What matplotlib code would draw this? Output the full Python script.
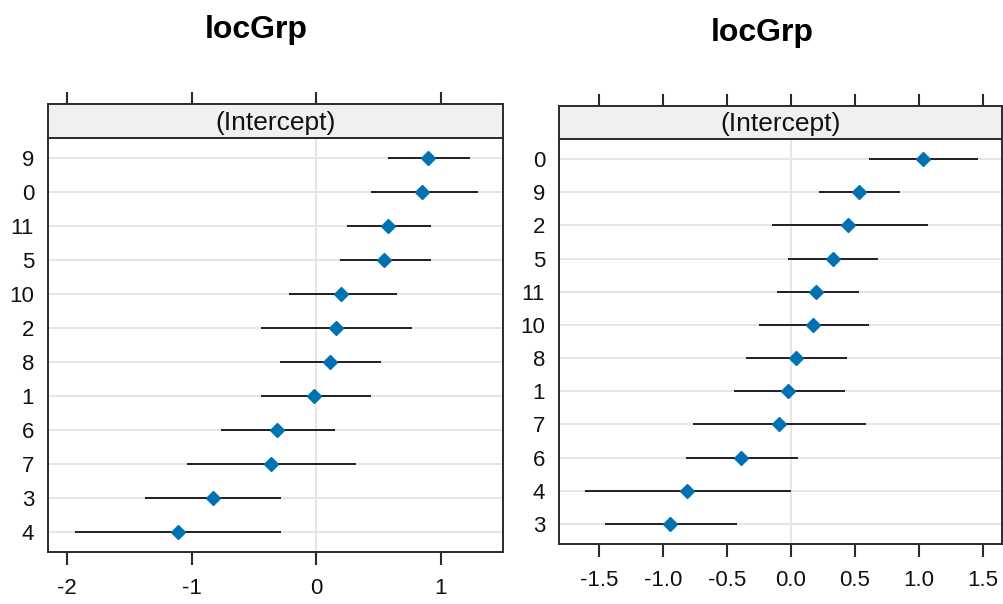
import matplotlib
matplotlib.use("Agg")
import matplotlib.pyplot as plt
import numpy as np

plt.rcParams['font.family'] = ['Liberation Sans', 'DejaVu Sans']
plt.rcParams['axes.unicode_minus'] = False

# left panel (top to bottom)
left_groups = ["9", "0", "11", "5", "10", "2", "8", "1", "6", "7", "3", "4"]
left_est = [0.90, 0.85, 0.58, 0.55, 0.20, 0.16, 0.11, -0.02, -0.31, -0.36, -0.83, -1.11]
left_lo = [0.58, 0.44, 0.25, 0.19, -0.22, -0.44, -0.29, -0.44, -0.76, -1.04, -1.37, -1.94]
left_hi = [1.24, 1.30, 0.92, 0.92, 0.65, 0.77, 0.52, 0.44, 0.15, 0.32, -0.28, -0.28]
left_ticks = [-2, -1, 0, 1]
left_ticklabels = ["-2", "-1", "0", "1"]

# right panel (top to bottom)
right_groups = ["0", "9", "2", "5", "11", "10", "8", "1", "7", "6", "4", "3"]
right_est = [1.03, 0.53, 0.45, 0.33, 0.20, 0.17, 0.04, -0.02, -0.09, -0.39, -0.81, -0.94]
right_lo = [0.61, 0.22, -0.15, -0.02, -0.11, -0.25, -0.35, -0.44, -0.76, -0.82, -1.61, -1.45]
right_hi = [1.46, 0.85, 1.07, 0.68, 0.53, 0.61, 0.44, 0.42, 0.59, 0.06, 0.00, -0.42]
right_ticks = [-1.5, -1.0, -0.5, 0.0, 0.5, 1.0, 1.5]
right_ticklabels = ["-1.5", "-1.0", "-0.5", "0.0", "0.5", "1.0", "1.5"]

W, H = 1004, 604
fig = plt.figure(figsize=(W / 100, H / 100), dpi=100)

frame_col = "#2b2b2b"
grid_col = "#e6e6e6"
dot_col = "#0072B2"


def px(x0, y0, x1, y1):
    # pixel box -> figure fraction rect
    return [x0 / W, 1 - y1 / H, (x1 - x0) / W, (y1 - y0) / H]


def panel(box, strip_box, groups, est, lo, hi, xlim, ticks, ticklabels):
    ax = fig.add_axes(px(*box))
    n = len(groups)
    y = np.arange(n, 0, -1)
    for yy in y:
        ax.axhline(yy, color=grid_col, lw=1.4, zorder=0)
    ax.axvline(0, color=grid_col, lw=1.4, zorder=0)
    ax.hlines(y, lo, hi, color="#111111", lw=1.3, zorder=2)
    ax.plot(est, y, "D", color=dot_col, ms=6.8, mec=dot_col, zorder=3)
    ax.set_xlim(*xlim)
    ax.set_ylim(0.4, n + 0.6)
    ax.set_yticks(y)
    ax.set_yticklabels(groups)
    ax.set_xticks(ticks)
    ax.set_xticklabels(ticklabels)
    ax.tick_params(axis="y", length=0, pad=10, labelsize=16, labelcolor="#111111")
    ax.tick_params(axis="x", direction="out", length=9, width=1.5,
                   color=frame_col, pad=10, labelsize=16, labelcolor="#111111")
    for s in ax.spines.values():
        s.set_color(frame_col)
        s.set_linewidth(1.4)

    st = fig.add_axes(px(*strip_box))
    st.set_facecolor("#f0f0f0")
    st.set_xlim(*xlim)
    st.set_ylim(0, 1)
    st.set_yticks([])
    st.set_xticks(ticks)
    st.xaxis.set_ticks_position("top")
    st.tick_params(axis="x", direction="out", length=9, width=1.5,
                   color=frame_col, labeltop=False, labelbottom=False)
    for s in st.spines.values():
        s.set_color(frame_col)
        s.set_linewidth(1.4)
    st.text(0.5, 0.45, "(Intercept)", transform=st.transAxes,
            ha="center", va="center", fontsize=19, color="#111111")
    return ax


panel((48, 138, 503, 552), (48, 104, 503, 138),
      left_groups, left_est, left_lo, left_hi, (-2.153, 1.502),
      left_ticks, left_ticklabels)
panel((559, 139, 1002, 544), (559, 106, 1002, 139),
      right_groups, right_est, right_lo, right_hi, (-1.81, 1.65),
      right_ticks, right_ticklabels)

fig.text(256 / W, 1 - 30 / H, "locGrp", ha="center", va="center",
         fontsize=23, fontweight="bold")
fig.text(762 / W, 1 - 33 / H, "locGrp", ha="center", va="center",
         fontsize=23, fontweight="bold")

fig.savefig("out.png", dpi=100)
